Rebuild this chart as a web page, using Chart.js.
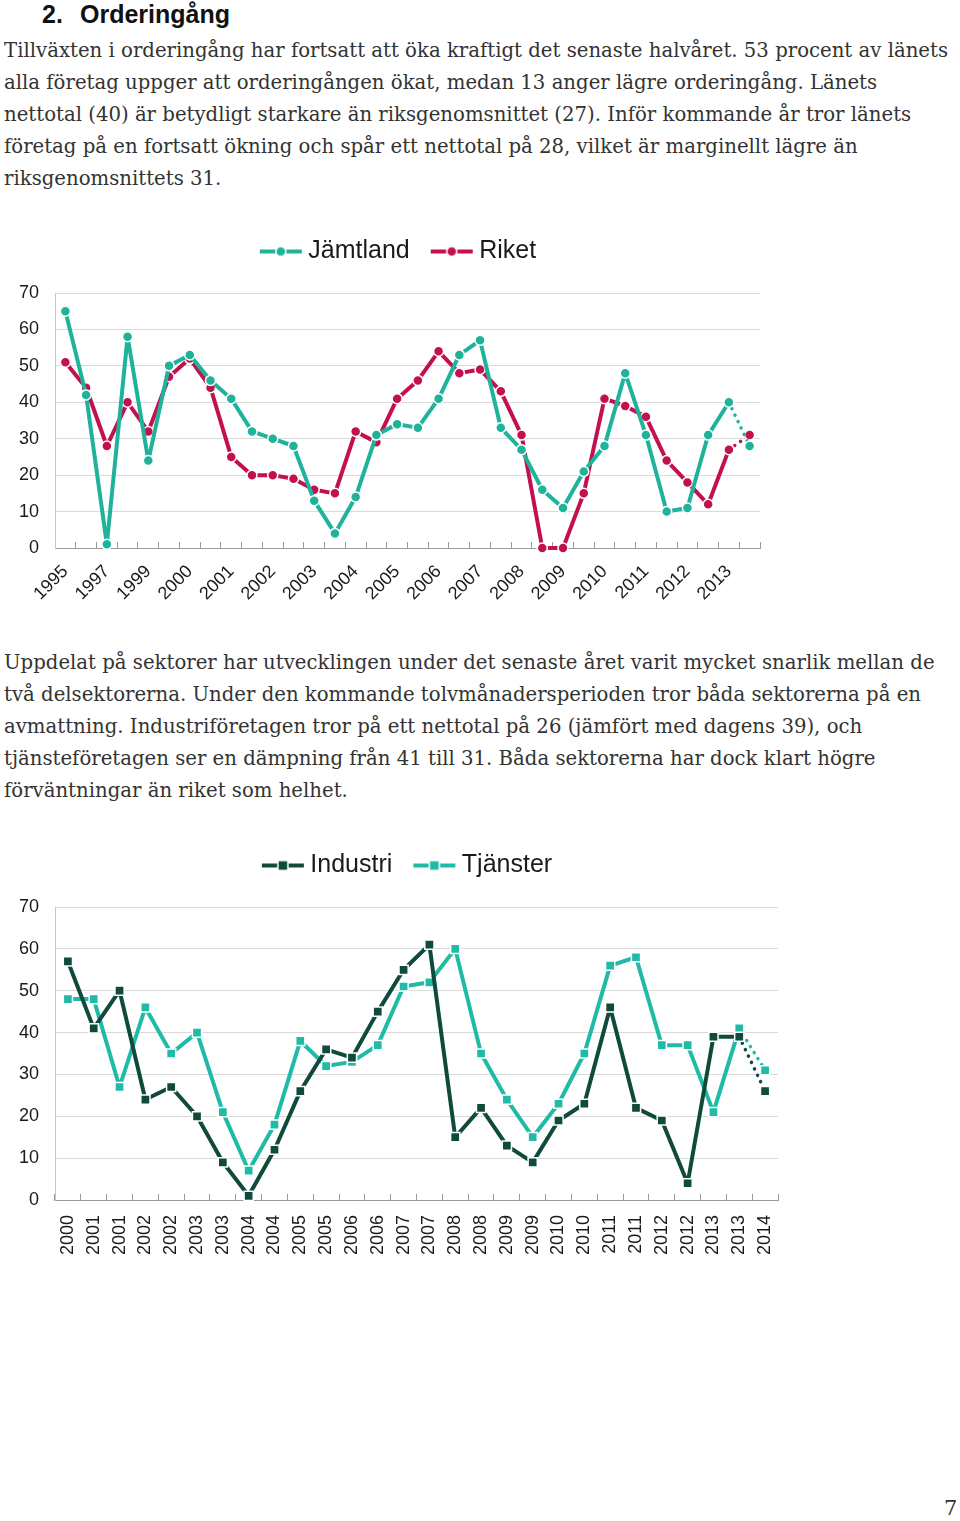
<!DOCTYPE html>
<html>
<head>
<meta charset="utf-8">
<script src="https://cdn.jsdelivr.net/npm/chart.js@4.4.1/dist/chart.umd.min.js"></script>
<style>
    body { margin: 0; background: #fff; width: 960px; height: 1521px; position: relative; overflow: hidden;
           font-family: "DejaVu Serif", Georgia, serif; color: #333; }
    h2 { position: absolute; left: 42px; top: 0px; margin: 0; font: bold 25px "Liberation Sans", Arial, sans-serif; color: #111; }
    h2 span { display: inline-block; width: 38px; }
    .para { position: absolute; left: 4px; font-size: 19.7px; line-height: 32px; white-space: nowrap; }
    .chartBox { position: absolute; left: 0; }
    #pageNo { position: absolute; left: 944px; top: 1496px; font-size: 21px; }
</style>
</head>
<body>
<h2><span>2.</span>Orderingång</h2>
<div class="para" style="top:35px">
Tillväxten i orderingång har fortsatt att öka kraftigt det senaste halvåret. 53 procent av länets<br>
alla företag uppger att orderingången ökat, medan 13 anger lägre orderingång. Länets<br>
nettotal (40) är betydligt starkare än riksgenomsnittet (27). Inför kommande år tror länets<br>
företag på en fortsatt ökning och spår ett nettotal på 28, vilket är marginellt lägre än<br>
riksgenomsnittets 31.
</div>

<div class="chartBox" style="top:207px; width:790px; height:411px;"><canvas id="chart1"></canvas></div>

<div class="para" style="top:647px">
Uppdelat på sektorer har utvecklingen under det senaste året varit mycket snarlik mellan de<br>
två delsektorerna. Under den kommande tolvmånadersperioden tror båda sektorerna på en<br>
avmattning. Industriföretagen tror på ett nettotal på 26 (jämfört med dagens 39), och<br>
tjänsteföretagen ser en dämpning från 41 till 31. Båda sektorerna har dock klart högre<br>
förväntningar än riket som helhet.
</div>

<div class="chartBox" style="top:821px; width:800px; height:454px;"><canvas id="chart2"></canvas></div>

<div id="pageNo">7</div>

<script>
// Chart 1: Jämtland vs Riket (nettotal orderingång)
const labels1 = ['1995', '', '1997', '', '1999', '', '2000', '', '2001', '', '2002', '', '2003', '', '2004', '', '2005', '',
    '2006', '', '2007', '', '2008', '', '2009', '', '2010', '', '2011', '', '2012', '', '2013', ''];
const jamtland = [65, 42, 1, 58, 24, 50, 53, 46, 41, 32, 30, 28, 13, 4, 14, 31, 34, 33, 41, 53, 57, 33, 27, 16, 11, 21, 28, 48, 31, 10, 11, 31, 40, 28];
const riket = [51, 44, 28, 40, 32, 47, 52, 44, 25, 20, 20, 19, 16, 15, 32, 29, 41, 46, 54, 48, 49, 43, 31, 0, 0, 15, 41, 39, 36, 24, 18, 12, 27, 31];

// Chart 2: Industri vs Tjänster
const labels2 = ['2000', '2001', '2001', '2002', '2002', '2003', '2003', '2004', '2004', '2005', '2005', '2006', '2006', '2007',
    '2007', '2008', '2008', '2009', '2009', '2010', '2010', '2011', '2011', '2012', '2012', '2013', '2013', '2014'];
const industri = [57, 41, 50, 24, 27, 20, 9, 1, 12, 26, 36, 34, 45, 55, 61, 15, 22, 13, 9, 19, 23, 46, 22, 19, 4, 39, 39, 26];
const tjanster = [48, 48, 27, 46, 35, 40, 21, 7, 18, 38, 32, 33, 37, 51, 52, 60, 35, 24, 15, 23, 35, 56, 58, 37, 37, 21, 41, 31];

const yTicks = { min: 0, max: 70, stepSize: 10 };

const tealA = '#1fb39b';
const red = '#c31150';
const darkGreen = '#0f4a3d';
const tealB = '#20bba6';

// legend icon: short line with a marker in the middle
function legendIcon(color, shape) {
    const c = document.createElement('canvas');
    c.width = 44; c.height = 14;
    const g = c.getContext('2d');
    g.strokeStyle = color;
    g.lineWidth = 4;
    g.beginPath(); g.moveTo(1, 7); g.lineTo(43, 7); g.stroke();
    g.fillStyle = color;
    g.strokeStyle = '#fff';
    g.lineWidth = 1.5;
    g.beginPath();
    if (shape === 'circle') g.arc(22, 7, 5, 0, Math.PI * 2);
    else g.rect(17, 2, 10, 10);
    g.fill(); g.stroke();
    return c;
}

// fixed legend height + small nudge
const legendTweak = {
    id: 'legendTweak',
    beforeInit(chart, args, opts) {
        const lg = chart.legend;
        if (!lg) return;
        const fit = lg.fit;
        lg.fit = function() { fit.call(this); this.height = opts.height; };
        const draw = lg.draw;
        lg.draw = function() {
            this.ctx.save();
            this.ctx.translate(opts.dx, opts.dy);
            draw.call(this);
            this.ctx.restore();
        };
    }
};

// last segment is a forecast -> dotted
function dottedLast(n) {
    return {
        borderDash: ctx => ctx.p1DataIndex === n - 1 ? [0.1, 7] : undefined,
        borderWidth: ctx => ctx.p1DataIndex === n - 1 ? 3.5 : undefined
    };
}

function makeDataset(label, data, color, shape, radius) {
    return {
        label: label,
        data: data,
        borderColor: color,
        backgroundColor: color,
        borderWidth: 4,
        borderCapStyle: 'round',
        borderJoinStyle: 'round',
        pointStyle: shape,
        pointRadius: radius,
        pointBorderColor: '#fff',
        pointBorderWidth: 1.5,
        pointBackgroundColor: color,
        tension: 0,
        clip: false,
        segment: dottedLast(data.length)
    };
}

function makeOptions(rotation, xHeight, labelPad, padRight, icons, legendDx) {
    return {
        responsive: true,
        maintainAspectRatio: false,
        animation: false,
        layout: { padding: { right: padRight, top: 2 } },
        plugins: {
            tooltip: { enabled: false },
            legendTweak: { height: 84, dx: legendDx, dy: 3 },
            legend: {
                position: 'top',
                labels: {
                    usePointStyle: true,
                    pointStyleWidth: 30,
                    padding: 27,
                    color: '#1a1a1a',
                    font: { family: 'Liberation Sans, Arial, sans-serif', size: 25 },
                    generateLabels: chart => chart.data.datasets.map((ds, i) => ({
                        text: ds.label,
                        pointStyle: icons[i],
                        fillStyle: ds.borderColor,
                        strokeStyle: ds.borderColor,
                        lineWidth: 0,
                        fontColor: '#1a1a1a',
                        datasetIndex: i
                    }))
                }
            }
        },
        scales: {
            x: {
                offset: true,
                grid: { offset: true, drawOnChartArea: false, tickLength: -6, color: '#999', lineWidth: 1 },
                border: { display: true, color: '#999', width: 1 },
                ticks: {
                    autoSkip: false,
                    minRotation: rotation,
                    maxRotation: rotation,
                    padding: labelPad,
                    color: '#1a1a1a',
                    font: { family: 'Liberation Sans, Arial, sans-serif', size: 18 }
                },
                afterFit: scale => {
                    scale.height = xHeight;
                    scale.paddingRight = 0;
                    scale.paddingLeft = 0;
                }
            },
            y: {
                min: yTicks.min,
                max: yTicks.max,
                grid: { color: '#dadada', drawTicks: false },
                border: { display: true, color: '#c8c8c8' },
                ticks: {
                    stepSize: yTicks.stepSize,
                    padding: 16,
                    color: '#1a1a1a',
                    font: { family: 'Liberation Sans, Arial, sans-serif', size: 18 }
                },
                afterFit: scale => { scale.width = 55; }
            }
        }
    };
}

new Chart(document.getElementById('chart1'), {
    type: 'line',
    data: {
        labels: labels1,
        datasets: [
            makeDataset('Jämtland', jamtland, tealA, 'circle', 5),
            makeDataset('Riket', riket, red, 'circle', 5)
        ]
    },
    options: makeOptions(45, 70, 19, 30, [legendIcon(tealA, 'circle'), legendIcon(red, 'circle')], 21),
    plugins: [legendTweak]
});

new Chart(document.getElementById('chart2'), {
    type: 'line',
    data: {
        labels: labels2,
        datasets: [
            makeDataset('Industri', industri, darkGreen, 'rect', 6.5),
            makeDataset('Tjänster', tjanster, tealB, 'rect', 6.5)
        ]
    },
    options: makeOptions(90, 75, 21, 22, [legendIcon(darkGreen, 'rect'), legendIcon(tealB, 'rect')], 21),
    plugins: [legendTweak]
});
</script>
</body>
</html>
